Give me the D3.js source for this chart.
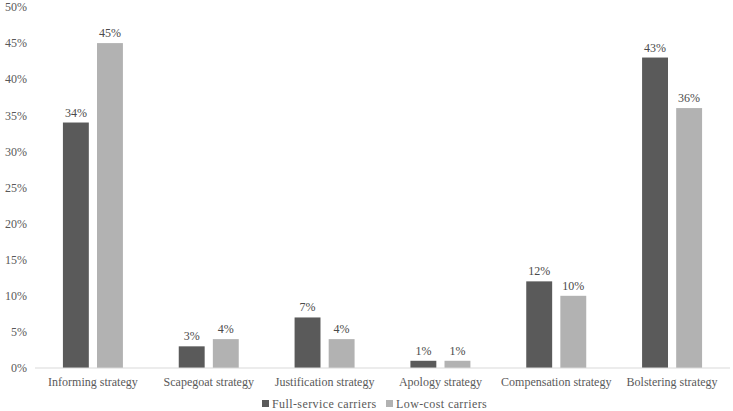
<!DOCTYPE html>
<html>
<head>
<meta charset="utf-8">
<script src="https://cdn.jsdelivr.net/npm/d3@7"></script>
<style>
  body { margin: 0; background: #fff; }
  text { font-family: "Liberation Serif", "Times New Roman", serif; }
</style>
</head>
<body>
<div class="vis-bars"></div>
<script>
const categories = ["Informing strategy", "Scapegoat strategy", "Justification strategy",
  "Apology strategy", "Compensation strategy", "Bolstering strategy"];
const series = ["Full-service carriers", "Low-cost carriers"];
const fullService = [34, 3, 7, 1, 12, 43];
const lowCost = [45, 4, 4, 1, 10, 36];
const yTicks = [0, 5, 10, 15, 20, 25, 30, 35, 40, 45, 50];

const width = 733, height = 411;
const margin = { top: 7, right: 3, bottom: 43, left: 35 };

const color = d3.scaleOrdinal().domain(series).range(["#5a5a5a", "#b2b2b2"]);

const svg = d3.select(".vis-bars").append("svg")
  .attr("width", width).attr("height", height);

const x0 = d3.scaleBand().domain(categories)
  .range([margin.left, width - margin.right]);
const x1 = d3.scaleBand().domain(series)
  .range([-30, 30]).paddingInner(0.24);
const y = d3.scaleLinear().domain([0, 50])
  .range([height - margin.bottom, margin.top]);

// y axis labels (no line, no ticks)
svg.append("g").selectAll("text").data(yTicks).enter().append("text")
  .attr("x", 27).attr("y", d => y(d)).attr("dy", "0.35em")
  .attr("text-anchor", "end").attr("font-size", 12).attr("fill", "#595959")
  .text(d => d + "%");

const rows = categories.map((c, i) => ({ cat: c, vals: [fullService[i], lowCost[i]] }));

const groups = svg.selectAll(".grp").data(rows).enter().append("g")
  .attr("transform", d => "translate(" + (x0(d.cat) + x0.bandwidth() / 2) + ",0)");

const bars = groups.selectAll("g").data(d => d.vals.map((v, i) => ({ s: series[i], v }))).enter().append("g");
bars.append("rect")
  .attr("x", d => x1(d.s)).attr("width", x1.bandwidth())
  .attr("y", d => y(d.v)).attr("height", d => y(0) - y(d.v))
  .attr("fill", d => color(d.s));
bars.append("text")
  .attr("x", d => x1(d.s) + x1.bandwidth() / 2).attr("y", d => y(d.v) - 6)
  .attr("text-anchor", "middle").attr("font-size", 12).attr("fill", "#4a4a4a")
  .text(d => d.v + "%");

// baseline
svg.append("line")
  .attr("x1", margin.left).attr("x2", width - margin.right)
  .attr("y1", y(0)).attr("y2", y(0))
  .attr("stroke", "#d9d9d9").attr("stroke-width", 1);

// category labels
svg.append("g").selectAll("text").data(categories).enter().append("text")
  .attr("x", d => x0(d) + x0.bandwidth() / 2).attr("y", y(0) + 18)
  .attr("text-anchor", "middle").attr("font-size", 12).attr("fill", "#595959")
  .text(d => d);

// legend
const legendX = [262, 386];
const legendG = svg.selectAll(".legend").data(series).enter().append("g")
  .attr("transform", (d, i) => "translate(" + legendX[i] + "," + 408 + ")");
legendG.append("rect")
  .attr("width", 7).attr("height", 7).attr("y", -8)
  .attr("fill", d => color(d));
legendG.append("text")
  .attr("x", 10).attr("y", 0)
  .attr("font-size", 12).attr("fill", "#595959")
  .attr("letter-spacing", "0.4px")
  .text(d => d);
</script>
</body>
</html>
